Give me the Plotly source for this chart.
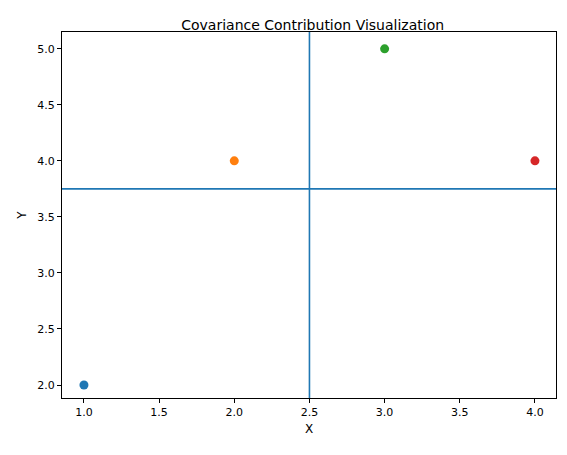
import numpy as np
import plotly.graph_objects as go

x = [1, 2, 3, 4]
y = [2, 4, 5, 4]
colors = ["#1f77b4", "#ff7f0e", "#2ca02c", "#d62728"]

mean_x = np.mean(x)
mean_y = np.mean(y)

fig = go.Figure()
for xi, yi, c in zip(x, y, colors):
    fig.add_trace(go.Scatter(x=[xi], y=[yi], mode="markers",
                             marker=dict(color=c, size=9), showlegend=False))

fig.add_vline(x=mean_x, line=dict(color="#1f77b4", width=1.6))
fig.add_hline(y=mean_y, line=dict(color="#1f77b4", width=1.6))

axis = dict(showgrid=False, zeroline=False, showline=True, linecolor="black",
            linewidth=1, mirror=True, ticks="outside", ticklen=4,
            tickcolor="black", tickfont=dict(size=11, color="black"))

# page body has an 8px margin, so size/margins are offset to compensate
fig.update_layout(
    width=559, height=447,
    margin=dict(l=54, r=11, t=24, b=57),
    plot_bgcolor="white", paper_bgcolor="white",
    font=dict(family="DejaVu Sans", color="black"),
    title=dict(text="Covariance Contribution Visualization", x=0.545, y=0.962,
               xanchor="center", yanchor="middle", font=dict(size=14)),
    xaxis=dict(axis, range=[0.854, 4.14], tickvals=np.arange(1.0, 4.01, 0.5),
               tickformat=".1f", title=dict(text="X", font=dict(size=12), standoff=6)),
    yaxis=dict(axis, range=[1.884, 5.15], tickvals=np.arange(2.0, 5.01, 0.5),
               tickformat=".1f", title=dict(text="Y", font=dict(size=12), standoff=8)),
)

fig.write_html("out.html")
